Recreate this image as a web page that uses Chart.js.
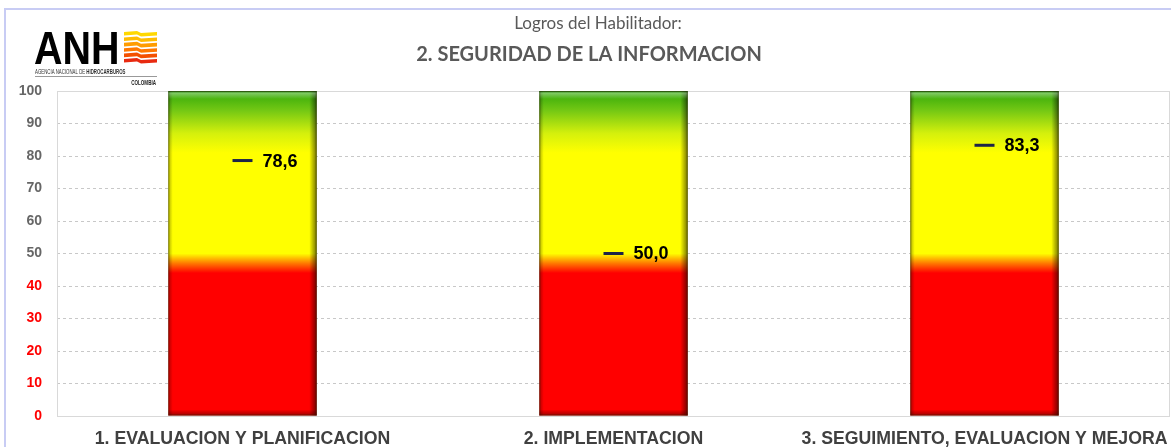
<!DOCTYPE html>
<html>
<head>
<meta charset="utf-8">
<script src="https://cdn.jsdelivr.net/npm/chart.js@4"></script>
<style>
  html, body { margin: 0; padding: 0; background: #fff; }
  #wrap { width: 1171px; height: 447px; position: relative; }
</style>
</head>
<body>
<div id="wrap"><canvas id="chartLogros" width="1171" height="447"></canvas></div>
<script>
const categorias = ['1. EVALUACION Y PLANIFICACION', '2. IMPLEMENTACION', '3. SEGUIMIENTO, EVALUACION Y MEJORA'];
const escala = [100, 100, 100];
const logros = [78.6, 50.0, 83.3];
const titulo = 'Logros del Habilitador:';
const subtitulo = '2. SEGURIDAD DE LA INFORMACION';

// fondo degradado rojo / amarillo / verde segun el eje Y
function degradado(context) {
  const chart = context.chart;
  const area = chart.chartArea;
  if (!area) return '#ff0000';
  const g = chart.ctx.createLinearGradient(0, area.bottom, 0, area.top);
  g.addColorStop(0, '#ff0000');
  g.addColorStop(0.44, '#ff0000');
  g.addColorStop(0.47, '#ff7a00');
  g.addColorStop(0.50, '#ffff00');
  g.addColorStop(0.81, '#ffff00');
  g.addColorStop(0.87, '#d4f00c');
  g.addColorStop(0.94, '#74c814');
  g.addColorStop(1, '#30a80a');
  return g;
}

const marco = {
  id: 'marco',
  beforeDraw(chart) {
    const c = chart.ctx;
    c.save();
    c.strokeStyle = '#c8ccf4';
    c.lineWidth = 2;
    c.beginPath();
    c.moveTo(5, 447);
    c.lineTo(5, 9);
    c.lineTo(1171, 9);
    c.stroke();

    // titulo
    c.fillStyle = '#595959';
    c.textAlign = 'center';
    c.textBaseline = 'middle';
    c.font = '17px Lato';
    c.fillText(titulo, 598, 24);
    c.font = 'bold 20px Lato';
    c.fillText(subtitulo, 589, 55);

    // logo ANH
    c.fillStyle = '#000';
    c.textAlign = 'left';
    c.textBaseline = 'alphabetic';
    c.save();
    c.translate(34, 64);
    c.scale(0.84, 1);
    c.font = 'bold 47px "Liberation Sans"';
    c.fillText('ANH', 0, 0);
    c.restore();
    const bandas = ['#ffd800', '#ffbc00', '#ff9c00', '#ff7800', '#f45000', '#e82a10'];
    bandas.forEach(function (col, i) {
      const y0 = 31 + i * 5.4;
      c.fillStyle = col;
      c.beginPath();
      c.moveTo(124, y0 + 1);
      c.lineTo(137, y0);
      c.lineTo(141, y0 + 2);
      c.lineTo(157, y0 + 1);
      c.lineTo(157, y0 + 4.6);
      c.lineTo(141, y0 + 5.6);
      c.lineTo(137, y0 + 3.6);
      c.lineTo(124, y0 + 4.6);
      c.closePath();
      c.fill();
    });
    c.save();
    c.translate(35, 74);
    c.scale(0.62, 1);
    c.fillStyle = '#333';
    c.font = '7px "Liberation Sans"';
    c.fillText('AGENCIA NACIONAL DE ', 0, 0);
    const w1 = c.measureText('AGENCIA NACIONAL DE ').width;
    c.font = 'bold 7px "Liberation Sans"';
    c.fillText('HIDROCARBUROS', w1, 0);
    c.restore();
    c.fillStyle = '#999';
    c.fillRect(35, 76, 122, 1);
    c.save();
    c.translate(156, 85);
    c.scale(0.7, 1);
    c.fillStyle = '#222';
    c.font = 'bold 6.5px "Liberation Sans"';
    c.textAlign = 'right';
    c.fillText('COLOMBIA', 0, 0);
    c.restore();
    c.restore();
  },
  beforeDatasetsDraw(chart) {
    const a = chart.chartArea;
    const c = chart.ctx;
    c.save();
    c.strokeStyle = '#d9d9d9';
    c.lineWidth = 1;
    c.strokeRect(a.left + 0.5, a.top + 0.5, a.right - a.left - 1, a.bottom - a.top);
    c.restore();
  }
};

// relieve de las barras
const relieve = {
  id: 'relieve',
  afterDatasetDraw(chart, args) {
    if (args.index !== 0) return;
    const c = chart.ctx;
    args.meta.data.forEach(function (bar) {
      const l = bar.x - bar.width / 2, r = bar.x + bar.width / 2;
      const t = bar.y, b = bar.base;
      c.save();
      const h = c.createLinearGradient(l, 0, r, 0);
      h.addColorStop(0, 'rgba(0,0,0,0.3)');
      h.addColorStop(0.03, 'rgba(0,0,0,0)');
      h.addColorStop(0.95, 'rgba(0,0,0,0)');
      h.addColorStop(1, 'rgba(0,0,0,0.55)');
      c.fillStyle = h;
      c.fillRect(l, t, r - l, b - t);
      const v = c.createLinearGradient(0, t, 0, t + 8);
      v.addColorStop(0, 'rgba(0,60,0,0.5)');
      v.addColorStop(0.3, 'rgba(255,255,255,0.35)');
      v.addColorStop(1, 'rgba(255,255,255,0)');
      c.fillStyle = v;
      c.fillRect(l, t, r - l, 8);
      const w = c.createLinearGradient(0, b - 6, 0, b);
      w.addColorStop(0, 'rgba(0,0,0,0)');
      w.addColorStop(1, 'rgba(60,0,0,0.45)');
      c.fillStyle = w;
      c.fillRect(l, b - 6, r - l, 6);
      c.strokeStyle = 'rgba(40,40,0,0.45)';
      c.lineWidth = 1;
      c.strokeRect(l + 0.5, t + 0.5, r - l - 1, b - t - 1);
      c.restore();
    });
  }
};

const etiquetas = {
  id: 'etiquetas',
  afterDatasetsDraw(chart) {
    const meta = chart.getDatasetMeta(1);
    const c = chart.ctx;
    c.save();
    c.fillStyle = '#000';
    c.font = 'bold 18px "Liberation Sans"';
    c.textAlign = 'left';
    c.textBaseline = 'middle';
    meta.data.forEach(function (p, i) {
      c.fillText(logros[i].toFixed(1).replace('.', ','), p.x + 20, p.y + 1);
    });
    c.restore();
  }
};

const ctx = document.getElementById('chartLogros');

new Chart(ctx, {
  type: 'bar',
  data: {
    labels: categorias,
    datasets: [{
      label: 'escala',
      data: escala,
      backgroundColor: degradado,
      borderWidth: 0,
      categoryPercentage: 1,
      barPercentage: 0.4,
      order: 1
    }, {
      type: 'line',
      label: 'logro',
      data: logros,
      showLine: false,
      pointStyle: 'line',
      pointRadius: 10,
      pointBorderWidth: 3,
      pointBorderColor: '#1c2448',
      order: 0
    }]
  },
  options: {
    responsive: false,
    animation: false,
    layout: { autoPadding: false, padding: { top: 91, right: 1, left: 0, bottom: 0 } },
    plugins: {
      legend: { display: false },
      tooltip: { enabled: false }
    },
    scales: {
      x: {
        grid: { display: false },
        border: { display: false },
        ticks: {
          padding: 4,
          maxRotation: 0,
          autoSkip: false,
          color: '#404040',
          font: { family: '"Liberation Sans"', weight: 'bold', size: 17.7 }
        },
        afterFit(scale) {
          scale.height = 31;
          scale.paddingLeft = 0;
          scale.paddingRight = 0;
        }
      },
      y: {
        min: 0,
        max: 100,
        border: { display: false, dash: [3, 3] },
        grid: {
          drawTicks: false,
          color(c) { return (c.tick.value === 0 || c.tick.value === 100) ? 'rgba(0,0,0,0)' : '#c8c8c8'; }
        },
        ticks: {
          stepSize: 10,
          padding: 15,
          color(c) { return c.tick.value <= 40 ? '#ff0000' : '#666666'; },
          font: { family: '"Liberation Sans"', weight: 'bold', size: 14 }
        },
        afterFit(scale) { scale.width = 57; }
      }
    }
  },
  plugins: [marco, relieve, etiquetas]
});
</script>
</body>
</html>
